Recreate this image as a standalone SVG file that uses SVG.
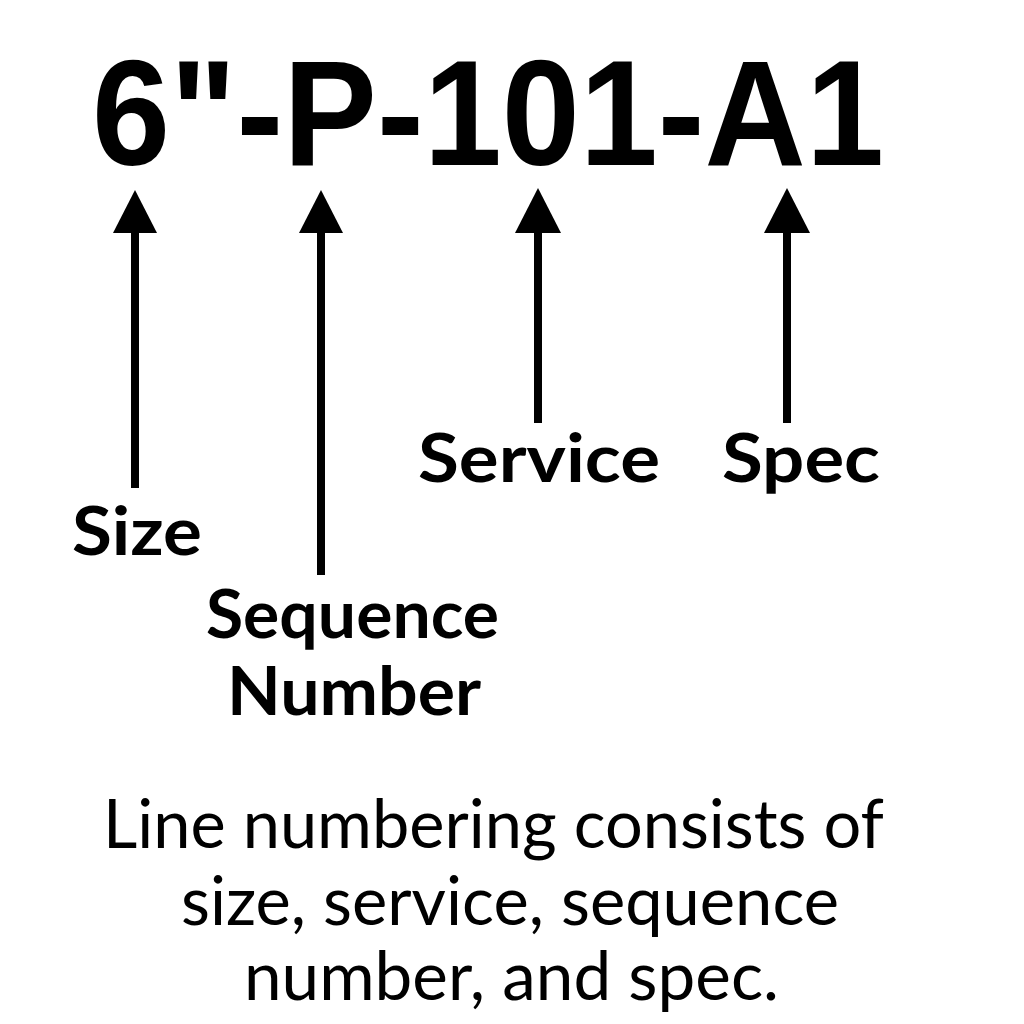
<svg xmlns="http://www.w3.org/2000/svg" width="1024" height="1024" viewBox="0 0 1024 1024">
<style>
.title{font-family:"Liberation Sans",Arial,sans-serif;font-weight:bold;font-size:150px;fill:#000}
.lbl{font-family:Lato,"Open Sans",sans-serif;font-weight:bold;font-size:66px;fill:#000}
.cap{font-family:Lato,"Open Sans",sans-serif;font-size:67px;fill:#000}
.conn{stroke:#000;stroke-width:8;fill:none}
.head{fill:#000}
</style>
<rect width="1024" height="1024" fill="#fff"/>
<g id="title"><text class="title" x="92" y="165" textLength="792" lengthAdjust="spacingAndGlyphs">6"-P-101-A1</text></g>
<g id="connectors">
<line class="conn" x1="135" y1="488" x2="135" y2="228"/>
<polygon class="head" points="135,190 113,233 157,233"/>
<line class="conn" x1="321" y1="575" x2="321" y2="228"/>
<polygon class="head" points="321,190 299,233 343,233"/>
<line class="conn" x1="538" y1="423" x2="538" y2="228"/>
<polygon class="head" points="538,188 515,233 561,233"/>
<line class="conn" x1="787" y1="423" x2="787" y2="228"/>
<polygon class="head" points="787,188 764,233 810,233"/>
</g>
<g id="size"><text class="lbl" x="72" y="555" textLength="130" lengthAdjust="spacingAndGlyphs">Size</text></g>
<g id="sequence"><text class="lbl" x="206" y="638" textLength="293" lengthAdjust="spacingAndGlyphs">Sequence</text>
<text class="lbl" x="227" y="715" textLength="254" lengthAdjust="spacingAndGlyphs">Number</text></g>
<g id="service"><text class="lbl" x="418" y="482" textLength="242" lengthAdjust="spacingAndGlyphs">Service</text></g>
<g id="spec"><text class="lbl" x="722" y="482" textLength="158" lengthAdjust="spacingAndGlyphs">Spec</text></g>
<g id="caption">
<text class="cap" x="103" y="848" textLength="781" lengthAdjust="spacingAndGlyphs">Line numbering consists of</text>
<text class="cap" x="181" y="925" textLength="658" lengthAdjust="spacingAndGlyphs">size, service, sequence</text>
<text class="cap" x="244" y="1000" textLength="535" lengthAdjust="spacingAndGlyphs">number, and spec.</text>
</g>
</svg>
